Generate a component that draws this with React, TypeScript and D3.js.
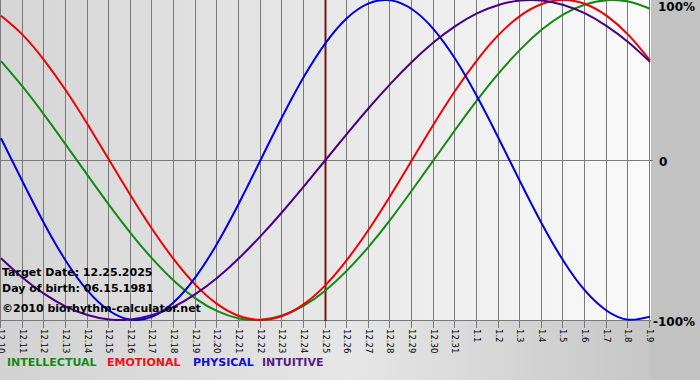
import React from "react";
import * as d3 from "d3";

const dates = [
  "12.10", "12.11", "12.12", "12.13", "12.14", "12.15", "12.16", "12.17", "12.18", "12.19",
  "12.20", "12.21", "12.22", "12.23", "12.24", "12.25", "12.26", "12.27", "12.28", "12.29",
  "12.30", "12.31", "1.1", "1.2", "1.3", "1.4", "1.5", "1.6", "1.7", "1.8", "1.9",
];

const intellectual = [
  0.618, 0.458, 0.282, 0.095, -0.095, -0.282, -0.458, -0.618, -0.756, -0.866,
  -0.945, -0.99, -0.999, -0.972, -0.91, -0.815, -0.69, -0.541, -0.372, -0.189,
  0, 0.189, 0.372, 0.541, 0.69, 0.815, 0.91, 0.972, 0.999, 0.99, 0.945,
];
const emotional = [
  0.901, 0.782, 0.623, 0.434, 0.223, 0, -0.223, -0.434, -0.623, -0.782,
  -0.901, -0.975, -1, -0.975, -0.901, -0.782, -0.623, -0.434, -0.223, 0,
  0.223, 0.434, 0.623, 0.782, 0.901, 0.975, 1, 0.975, 0.901, 0.782, 0.623,
];
const physical = [
  0.136, -0.136, -0.398, -0.631, -0.817, -0.942, -0.998, -0.979, -0.888, -0.731,
  -0.52, -0.27, 0, 0.27, 0.52, 0.731, 0.888, 0.979, 0.998, 0.942,
  0.817, 0.631, 0.398, 0.136, -0.136, -0.398, -0.631, -0.817, -0.942, -0.998, -0.979,
];
const intuitive = [
  -0.614, -0.736, -0.837, -0.916, -0.969, -0.997, -0.997, -0.969, -0.916, -0.837,
  -0.736, -0.614, -0.476, -0.325, -0.165, 0, 0.165, 0.325, 0.476, 0.614,
  0.736, 0.837, 0.916, 0.969, 0.997, 0.997, 0.969, 0.916, 0.837, 0.736, 0.614,
];

const seriesNames = ["INTELLECTUAL", "EMOTIONAL", "PHYSICAL", "INTUITIVE"];
const seriesColors = ["#138a13", "#f00000", "#0000e6", "#4b0082"];
const legendColors = ["#138a13", "#f01020", "#1010d0", "#5a1a8a"];
const seriesData = [intellectual, emotional, physical, intuitive];
const yTickValues = [1, 0, -1];
const yTickLabels = ["100%", "0", "-100%"];
const targetDate = "12.25";
const infoLines = ["Target Date: 12.25.2025", "Day of birth: 06.15.1981"];
const copyright = "\u00a92010 biorhythm-calculator.net";

export default function App() {
  const W = 700;
  const H = 380;
  const plotRight = 651;
  const plotBottom = 321;
  const x = d3.scaleLinear().domain([0, dates.length - 1]).range([1, 650]);
  const y = d3.scaleLinear().domain([-1, 1]).range([320, 0]);
  const line = d3
    .line<number>()
    .x((_, i) => x(i))
    .y((d) => y(d))
    .curve(d3.curveNatural);
  const targetIdx = dates.indexOf(targetDate);
  const font = "'DejaVu Sans', Verdana, sans-serif";
  const legendX = [7, 107, 193, 262];

  return (
    <div style={{ position: "fixed", left: 0, top: 0, width: W, height: H }}>
      <svg width={W} height={H} style={{ display: "block" }}>
        <defs>
          <linearGradient id="plotbg" x1="0" x2="1" y1="0" y2="0">
            <stop offset="0" stopColor="#d5d5d5" />
            <stop offset="1" stopColor="#fafafa" />
          </linearGradient>
          <linearGradient id="outerbg" x1="0" x2="1" y1="0" y2="0">
            <stop offset="0" stopColor="#d2d2d2" />
            <stop offset="0.5" stopColor="#e6e6e6" />
            <stop offset="0.93" stopColor="#c6c6c6" />
            <stop offset="1" stopColor="#c2c2c2" />
          </linearGradient>
          <clipPath id="plotclip">
            <rect x={0} y={0} width={plotRight + 2} height={plotBottom} />
          </clipPath>
        </defs>
        <rect x={0} y={0} width={W} height={H} fill="url(#outerbg)" />
        <rect x={plotRight} y={0} width={W - plotRight} height={H} fill="#c2c2c2" />
        <rect x={0} y={0} width={plotRight} height={plotBottom} fill="url(#plotbg)" />

        {dates.map((d, i) => (
          <line
            key={"g" + d}
            x1={Math.round(x(i)) - 0.5}
            x2={Math.round(x(i)) - 0.5}
            y1={0}
            y2={plotBottom + 7}
            stroke="#7a7a7a"
            strokeWidth={1}
          />
        ))}
        <line x1={0} x2={plotRight + 2} y1={y(0) + 0.5} y2={y(0) + 0.5} stroke="#7a7a7a" />
        <line x1={0} x2={plotRight} y1={plotBottom - 0.5} y2={plotBottom - 0.5} stroke="#7a7a7a" />

        <line
          x1={x(targetIdx)}
          x2={x(targetIdx)}
          y1={0}
          y2={plotBottom}
          stroke="#7a1414"
          strokeWidth={2}
        />

        <g clipPath="url(#plotclip)">
          {seriesData.map((s, k) => (
            <path
              key={seriesNames[k]}
              d={line(s) || ""}
              fill="none"
              stroke={seriesColors[k]}
              strokeWidth={2}
            />
          ))}
        </g>

        <g fontFamily={font} fontWeight="bold" fontSize={11} fill="#000">
          {infoLines.map((t, i) => (
            <text key={t} x={2} y={276 + i * 16}>
              {t}
            </text>
          ))}
          <text x={2} y={312}>
            {copyright}
          </text>
        </g>

        {yTickValues.map((v, i) => (
          <text
            key={"yl" + i}
            x={v === 0 ? 659 : v > 0 ? 658 : 653}
            y={Math.max(y(v) + 2, 7)}
            dominantBaseline="central"
            fontFamily={font}
            fontWeight="bold"
            fontSize={12}
            fill="#000"
          >
            {yTickLabels[i]}
          </text>
        ))}

        {dates.map((d, i) => (
          <text
            key={"xl" + d}
            transform={`translate(${x(i)},${plotBottom + 8}) rotate(90)`}
            dominantBaseline="central"
            fontFamily={font}
            fontSize={8.5}
            fill="#000"
          >
            {d}
          </text>
        ))}

        {seriesNames.map((n, k) => (
          <text
            key={"lg" + n}
            x={legendX[k]}
            y={366}
            fontFamily={font}
            fontWeight="bold"
            fontSize={11}
            fill={legendColors[k]}
          >
            {n}
          </text>
        ))}
      </svg>
    </div>
  );
}
